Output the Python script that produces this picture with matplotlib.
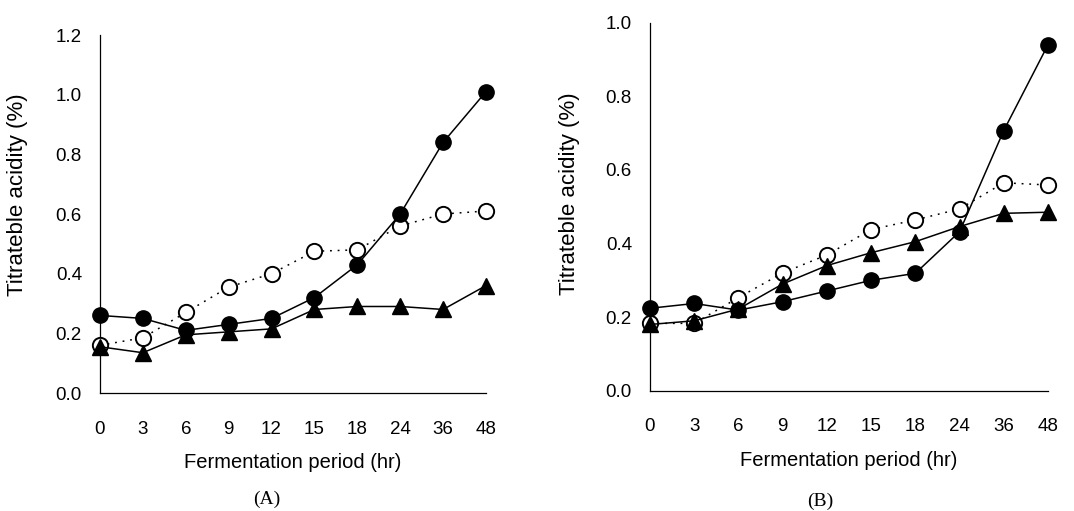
import matplotlib
matplotlib.use("Agg")
import matplotlib.pyplot as plt

hours = ["0", "3", "6", "9", "12", "15", "18", "24", "36", "48"]

# Panel A
a_filled = [0.26, 0.25, 0.21, 0.23, 0.25, 0.32, 0.43, 0.60, 0.84, 1.01]
a_open = [0.16, 0.185, 0.27, 0.355, 0.40, 0.475, 0.48, 0.56, 0.60, 0.61]
a_tri = [0.155, 0.135, 0.195, 0.205, 0.215, 0.28, 0.29, 0.29, 0.28, 0.36]

# Panel B
b_filled = [0.224, 0.237, 0.219, 0.242, 0.271, 0.30, 0.319, 0.432, 0.707, 0.94]
b_open = [0.183, 0.183, 0.253, 0.32, 0.369, 0.438, 0.464, 0.494, 0.565, 0.559]
b_tri = [0.18, 0.19, 0.222, 0.29, 0.34, 0.375, 0.405, 0.446, 0.482, 0.485]

a_yticks = [0.0, 0.2, 0.4, 0.6, 0.8, 1.0, 1.2]
b_yticks = [0.0, 0.2, 0.4, 0.6, 0.8, 1.0]

plt.rcParams['font.family'] = ['Liberation Sans', 'DejaVu Sans']

fig = plt.figure(figsize=(10.74, 5.11), dpi=100)
axA = fig.add_axes([0.0931, 0.2309, 0.3594, 0.7006])
axB = fig.add_axes([0.6052, 0.2354, 0.3706, 0.7202])


def draw(ax, filled, opn, tri, yticks, ymax, letter, ylab_xy, letter_xy):
    x = list(range(len(hours)))
    ax.plot(x, opn, color='black', lw=1.1, ls=(0, (1.2, 3.8)), marker='o',
            markersize=11, markerfacecolor='white', markeredgecolor='black',
            markeredgewidth=1.4, clip_on=False, zorder=3)
    ax.plot(x, tri, color='black', lw=1.1, marker='^', markersize=11,
            markerfacecolor='black', markeredgecolor='black', clip_on=False, zorder=4)
    ax.plot(x, filled, color='black', lw=1.1, marker='o', markersize=11,
            markerfacecolor='black', markeredgecolor='black', clip_on=False, zorder=5)
    ax.set_xlim(0, len(hours) - 1)
    ax.set_ylim(0, ymax)
    ax.set_xticks(x)
    ax.set_xticklabels(hours)
    ax.set_yticks(yticks)
    ax.set_yticklabels([f"{v:.1f}" for v in yticks])
    ax.tick_params(axis='both', length=0, labelsize=13.5)
    ax.tick_params(axis='y', pad=13)
    ax.tick_params(axis='x', pad=20)
    for s in ['top', 'right']:
        ax.spines[s].set_visible(False)
    for s in ['left', 'bottom']:
        ax.spines[s].set_linewidth(0.9)
    ax.set_xlabel("Fermentation period (hr)", fontsize=14.5, labelpad=11)
    ax.set_ylabel("Titrateble acidity (%)", fontsize=16)
    ax.yaxis.set_label_coords(*ylab_xy)
    fig.text(letter_xy[0], letter_xy[1], f"({letter})", ha='center',
             va='center', fontsize=14, family=['Liberation Serif', 'DejaVu Serif'])


draw(axA, a_filled, a_open, a_tri, a_yticks, 1.2, "A", (-0.187, 0.553), (0.2486, 0.022))
draw(axB, b_filled, b_open, b_tri, b_yticks, 1.0, "B", (-0.176, 0.534), (0.7635, 0.018))

fig.savefig("out.png", dpi=100)
